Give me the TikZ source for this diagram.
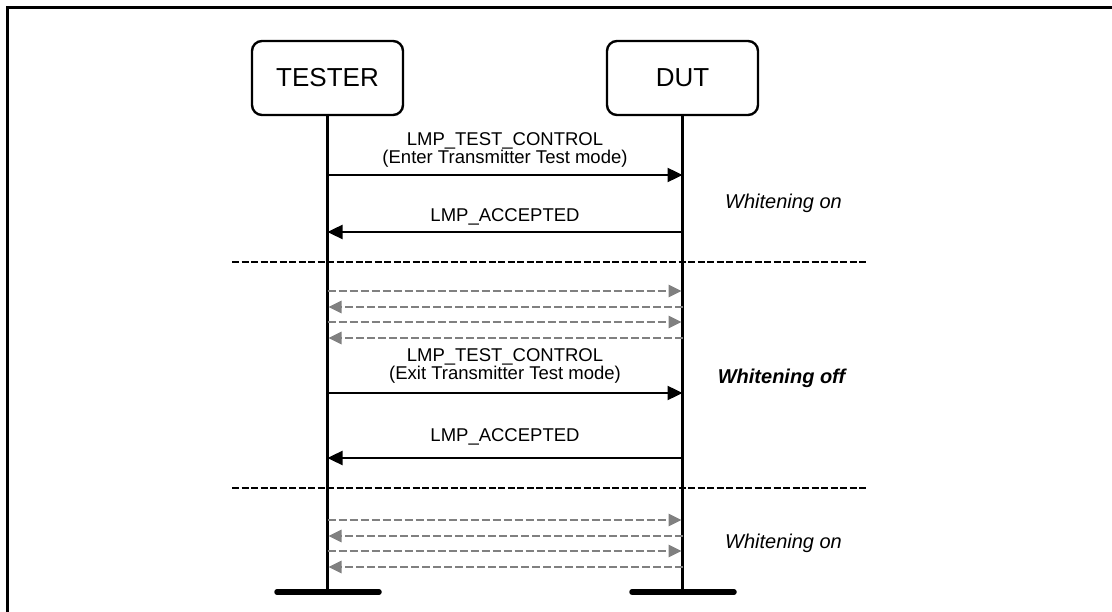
\documentclass[tikz,border=0pt]{standalone}
\usepackage{fontspec}
\setmainfont{Liberation Sans}
\usetikzlibrary{arrows.meta}

\begin{document}
\begin{tikzpicture}[x=1pt, y=-1pt,
    actor/.style={draw, line width=2.4pt, rounded corners=10pt, minimum width=151pt, minimum height=74pt, font=\fontsize{26}{30}\selectfont},
    life/.style={line width=2.4pt},
    foot/.style={line width=5.5pt, line cap=round},
    msg/.style={line width=2.4pt, -{Triangle[length=15pt, width=14pt]}},
    echo/.style={gray, line width=2.6pt, dash pattern=on 8pt off 3pt, -{Triangle[length=13pt, width=12pt]}},
    sep/.style={line width=2.6pt, dash pattern=on 7pt off 2.5pt},
    lbl/.style={font=\fontsize{18.5}{18}\selectfont, align=center, inner sep=0pt},
    note/.style={font=\fontsize{20}{24}\selectfont\itshape, inner sep=0pt}]
    \useasboundingbox (0,0) rectangle (1112,612);
    \draw[line width=3pt] (7.5,612) -- (7.5,7.5) -- (1112,7.5);

    % the two parties and their lifelines
    \node[actor] (tester) at (327.5,78) {TESTER};
    \node[actor] (dut)    at (682.5,78) {DUT};
    \coordinate (tend) at (327.5,592);
    \coordinate (dend) at (682.5,592);
    \draw[life] (tester.south) -- (tend);
    \draw[life] (dut.south) -- (dend);
    \coordinate (tl) at (277,592);
    \coordinate (tr) at (379,592);
    \coordinate (dl) at (632,592);
    \coordinate (dr) at (734,592);
    \draw[foot] (tl) -- (tr);
    \draw[foot] (dl) -- (dr);

    % enter test mode
    \node[lbl] (m1) at (505,150) {LMP\_TEST\_CONTROL\\(Enter Transmitter Test mode)};
    \draw[msg] (tester.south |- 0,175) -- (dut.south |- 0,175);
    \node[lbl] (a1) at (505,217) {LMP\_ACCEPTED};
    \draw[msg] (dut.south |- 0,232) -- (tester.south |- 0,232);
    \node[note] (w1) at (783.5,203) {Whitening on};

    \draw[sep] (232,262) -- (868,262);

    % test packets
    \draw[echo] (tester.south |- 0,291) -- ([xshift=-1pt]dut.south |- 0,291);
    \draw[echo] (dut.south |- 0,307) -- ([xshift=1pt]tester.south |- 0,307);
    \draw[echo] (tester.south |- 0,322) -- ([xshift=-1pt]dut.south |- 0,322);
    \draw[echo] (dut.south |- 0,338) -- ([xshift=1pt]tester.south |- 0,338);

    % exit test mode
    \node[lbl] (m2) at (505,365.5) {LMP\_TEST\_CONTROL\\(Exit Transmitter Test mode)};
    \draw[msg] (tester.south |- 0,393) -- (dut.south |- 0,393);
    \node[note, font=\fontsize{20}{24}\selectfont\itshape\bfseries] (w2) at (781.5,378) {Whitening off};
    \node[lbl] (a2) at (505,437) {LMP\_ACCEPTED};
    \draw[msg] (dut.south |- 0,458) -- (tester.south |- 0,458);

    \draw[sep] (232,488) -- (868,488);

    % packets after exit
    \draw[echo] (tester.south |- 0,520) -- ([xshift=-1pt]dut.south |- 0,520);
    \draw[echo] (dut.south |- 0,536) -- ([xshift=1pt]tester.south |- 0,536);
    \draw[echo] (tester.south |- 0,551) -- ([xshift=-1pt]dut.south |- 0,551);
    \draw[echo] (dut.south |- 0,567) -- ([xshift=1pt]tester.south |- 0,567);
    \node[note] (w3) at (783.5,543) {Whitening on};
\end{tikzpicture}
\end{document}
